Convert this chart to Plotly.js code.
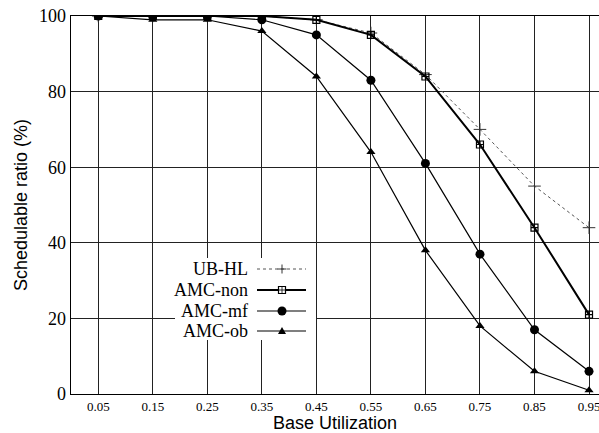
<!DOCTYPE html>
<html>
<head>
<meta charset="utf-8">
<script src="https://cdn.plot.ly/plotly-3.0.1.min.js"></script>
<style>html,body{margin:0;padding:0;background:#fff;}#chart{width:599px;height:433px;}</style>
</head>
<body>
<div id="chart"></div>
<script>
const utilization = [0.05, 0.15, 0.25, 0.35, 0.45, 0.55, 0.65, 0.75, 0.85, 0.95];
const ubHL   = [100, 100, 100, 100, 99, 95.5, 84.5, 70, 55, 44];
const amcNon = [100, 100, 100, 100, 99, 95, 84, 66, 44, 21];
const amcMf  = [100, 100, 100, 99, 95, 83, 61, 37, 17, 6];
const amcOb  = [100, 99, 99, 96, 84, 64, 38, 18, 6, 1];
const seriesNames = ['UB-HL', 'AMC-non', 'AMC-mf', 'AMC-ob'];
const yTicks = [0, 20, 40, 60, 80, 100];

const SERIF = 'Liberation Serif';
const SANS = 'Liberation Sans';
const ink = '#000';
const traces = [
  {x: utilization, y: ubHL, name: seriesNames[0], mode: 'lines+markers',
   line: {color: '#555', width: 1, dash: 'dot'},
   marker: {symbol: 'cross-thin', size: 9, line: {color: '#333', width: 1}}},
  {x: utilization, y: amcNon, name: seriesNames[1], mode: 'lines+markers',
   line: {color: ink, width: 2},
   marker: {symbol: 'square-cross-open', size: 7, color: ink, line: {color: ink, width: 1.2}}},
  {x: utilization, y: amcMf, name: seriesNames[2], mode: 'lines+markers',
   line: {color: ink, width: 1.2},
   marker: {symbol: 'circle', size: 9, color: ink}},
  {x: utilization, y: amcOb, name: seriesNames[3], mode: 'lines+markers',
   line: {color: ink, width: 1.2},
   marker: {symbol: 'triangle-up', size: 8, color: ink}}
];

// custom legend (text left, sample right), in paper coordinates
const L = 71, R = 599, T = 16, B = 394;
const px = v => (v - L) / (R - L);
const py = v => (B - v) / (B - T);
const rowsY = [269, 290, 311, 331];
const shapes = [
  {type: 'rect', xref: 'paper', yref: 'paper', x0: px(175), x1: px(316), y0: py(340), y1: py(258),
   fillcolor: '#fff', line: {width: 0}, layer: 'above'}
];
const annotations = [];
const lineStyles = [
  {color: '#555', width: 1, dash: 'dot'},
  {color: ink, width: 2},
  {color: ink, width: 1.2},
  {color: ink, width: 1.2}
];
rowsY.forEach((yy, i) => {
  annotations.push({xref: 'paper', yref: 'paper', x: px(250), y: py(yy), xanchor: 'right', yanchor: 'middle',
    text: seriesNames[i], showarrow: false, font: {family: SERIF, size: 18, color: '#000'}});
  shapes.push({type: 'line', xref: 'paper', yref: 'paper', x0: px(257), x1: px(306), y0: py(yy), y1: py(yy),
    line: lineStyles[i], layer: 'above'});
  const cx = px(282), cy = py(yy);
  if (i === 0) {
    shapes.push({type: 'path', xref: 'paper', yref: 'paper', xsizemode: 'pixel', ysizemode: 'pixel',
      xanchor: cx, yanchor: cy, path: 'M-4.5,0L4.5,0M0,-4.5L0,4.5', line: {color: '#333', width: 1}, layer: 'above'});
  } else if (i === 1) {
    shapes.push({type: 'rect', xref: 'paper', yref: 'paper', xsizemode: 'pixel', ysizemode: 'pixel',
      xanchor: cx, yanchor: cy, x0: -3.5, x1: 3.5, y0: -3.5, y1: 3.5, fillcolor: '#fff', line: {color: ink, width: 1.2}, layer: 'above'});
    shapes.push({type: 'path', xref: 'paper', yref: 'paper', xsizemode: 'pixel', ysizemode: 'pixel',
      xanchor: cx, yanchor: cy, path: 'M-3.5,0L3.5,0M0,-3.5L0,3.5', line: {color: ink, width: 0.8}, layer: 'above'});
  } else if (i === 2) {
    shapes.push({type: 'circle', xref: 'paper', yref: 'paper', xsizemode: 'pixel', ysizemode: 'pixel',
      xanchor: cx, yanchor: cy, x0: -4.5, x1: 4.5, y0: -4.5, y1: 4.5, fillcolor: ink, line: {color: ink, width: 0}, layer: 'above'});
  } else {
    shapes.push({type: 'path', xref: 'paper', yref: 'paper', xsizemode: 'pixel', ysizemode: 'pixel',
      xanchor: cx, yanchor: cy, path: 'M-4,-3L4,-3L0,4Z', fillcolor: ink, line: {color: ink, width: 0}, layer: 'above'});
  }
});

const layout = {
  width: 599, height: 433,
  margin: {l: 71, r: 0, t: 16, b: 39, pad: 0},
  paper_bgcolor: '#fff', plot_bgcolor: '#fff',
  showlegend: false,
  xaxis: {
    range: [0, 0.9683], tickvals: utilization, ticktext: utilization.map(v => v.toFixed(2)),
    ticklabeloverflow: 'allow',
    showgrid: true, gridcolor: '#222', gridwidth: 1, zeroline: false,
    showline: true, linecolor: '#000', linewidth: 1.3, mirror: true, ticks: '',
    tickfont: {family: SERIF, size: 13, color: '#000'},
    title: {text: 'Base Utilization', font: {family: SANS, size: 18, color: '#000'}, standoff: 4}
  },
  yaxis: {
    range: [0, 100], tickvals: yTicks,
    showgrid: true, gridcolor: '#222', gridwidth: 1, zeroline: false,
    showline: true, linecolor: '#000', linewidth: 1.3, ticks: '', ticklen: 0,
    tickfont: {family: SERIF, size: 18, color: '#000'},
    title: {text: 'Schedulable ratio (%)', font: {family: SANS, size: 18, color: '#000'}, standoff: 6}
  },
  shapes: shapes,
  annotations: annotations
};

Plotly.newPlot('chart', traces, layout, {staticPlot: true, displayModeBar: false});
</script>
</body>
</html>
